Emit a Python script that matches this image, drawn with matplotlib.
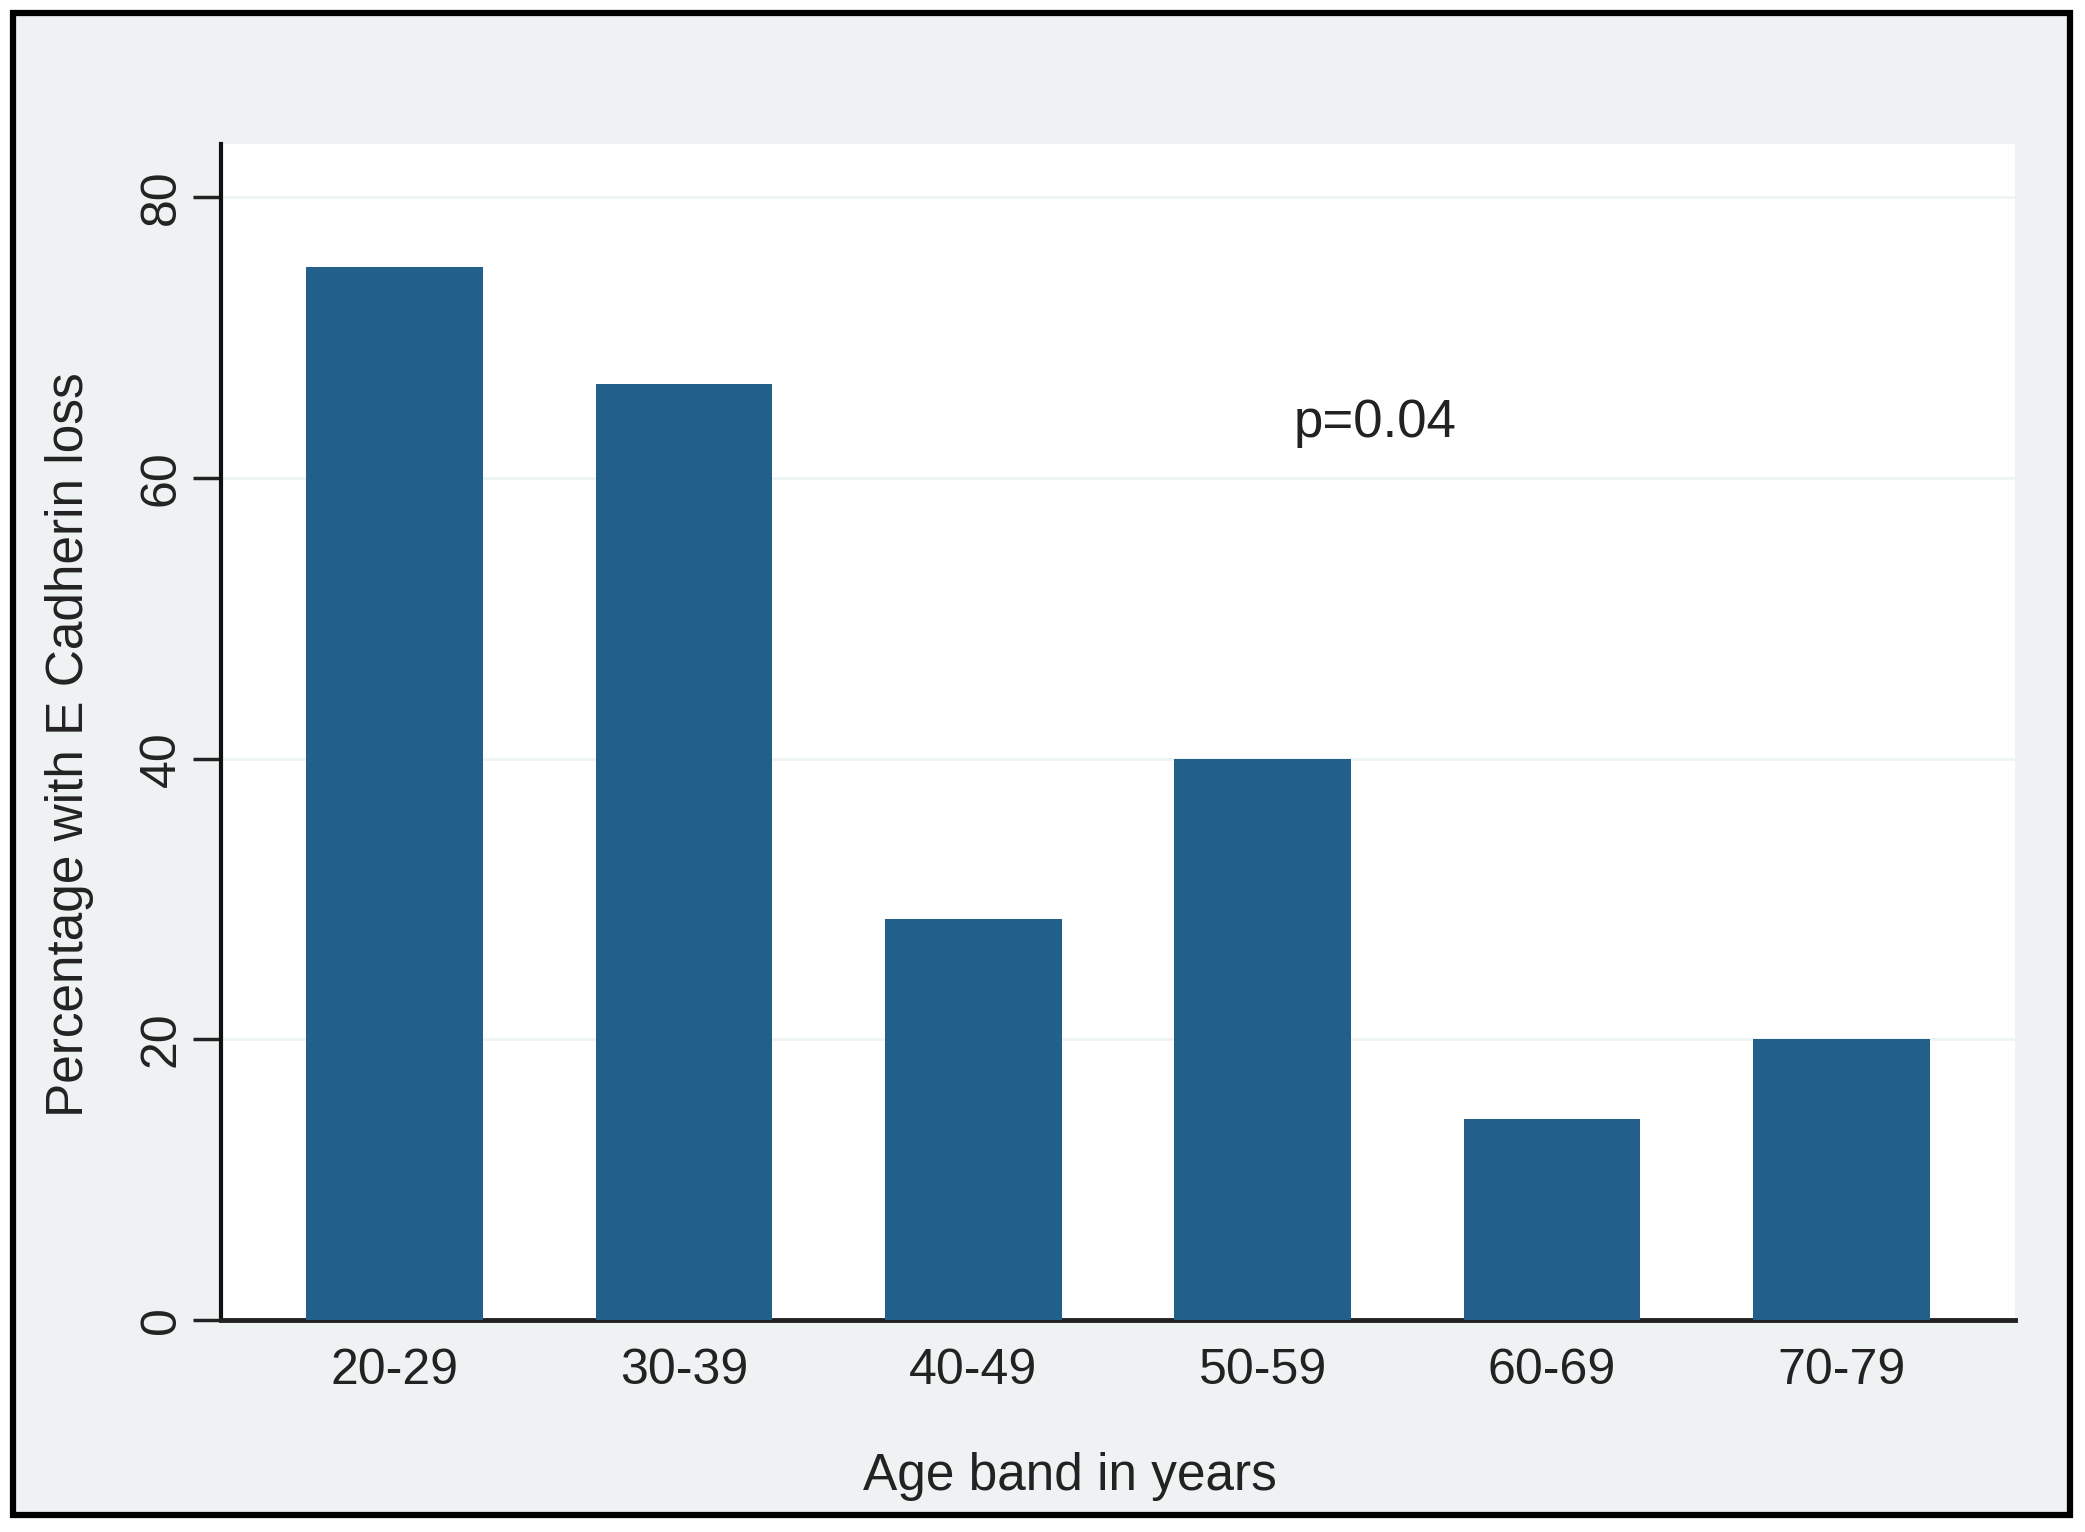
import matplotlib.pyplot as plt
from matplotlib.patches import Rectangle

# data
age_bands = ['20-29', '30-39', '40-49', '50-59', '60-69', '70-79']
pct_loss = [75.0, 66.7, 28.6, 40.0, 14.3, 20.0]
y_ticks = [0, 20, 40, 60, 80]

plt.rcParams['font.family'] = ['Liberation Sans', 'DejaVu Sans']

fig = plt.figure(figsize=(20.85, 15.32), dpi=100, facecolor='white')

# outer stata-like frame, kept behind the axes
frame = Rectangle((0.0062, 0.0111), 0.9866, 0.9804, transform=fig.transFigure,
                  facecolor='#eef2f3', edgecolor='black', linewidth=4.5, zorder=-5)
fig.patches.append(frame)

ax = fig.add_axes([0.106, 0.1384, 0.8604, 0.7676])
ax.set_facecolor('white')

x = range(len(age_bands))
ax.bar(x, pct_loss, width=0.61, color='#235f8b', zorder=3)

ax.set_xlim(-0.6, 5.6)
ax.set_ylim(0, 83.8)
ax.set_yticks(y_ticks)
ax.set_yticklabels([str(t) for t in y_ticks], rotation=90, va='center', fontsize=36)
ax.set_xticks(list(x))
ax.set_xticklabels(age_bands, fontsize=36, color='#222222')

ax.tick_params(axis='y', length=20, width=2.5, pad=6, colors='#222222')
ax.tick_params(axis='x', length=0, pad=20)

ax.grid(axis='y', color='#eef3f4', linewidth=2, zorder=0)
ax.set_axisbelow(True)

for side in ['top', 'right']:
    ax.spines[side].set_visible(False)
ax.spines['left'].set_linewidth(3)
ax.spines['bottom'].set_linewidth(3.5)
ax.spines['left'].set_color('#111111')
ax.spines['bottom'].set_color('#222222')

ax.set_xlabel('Age band in years', fontsize=37, color='#222222', va='center')
ax.xaxis.set_label_coords(0.473, -0.1327)
ax.set_ylabel('Percentage with E Cadherin loss', fontsize=37, color='#222222', va='center')
ax.yaxis.set_label_coords(-0.0847, 0.489)

ax.text(3.39, 63.9, 'p=0.04', fontsize=38, ha='center', va='center', color='#222222')

fig.savefig('out.png', dpi=100, facecolor=fig.get_facecolor())
